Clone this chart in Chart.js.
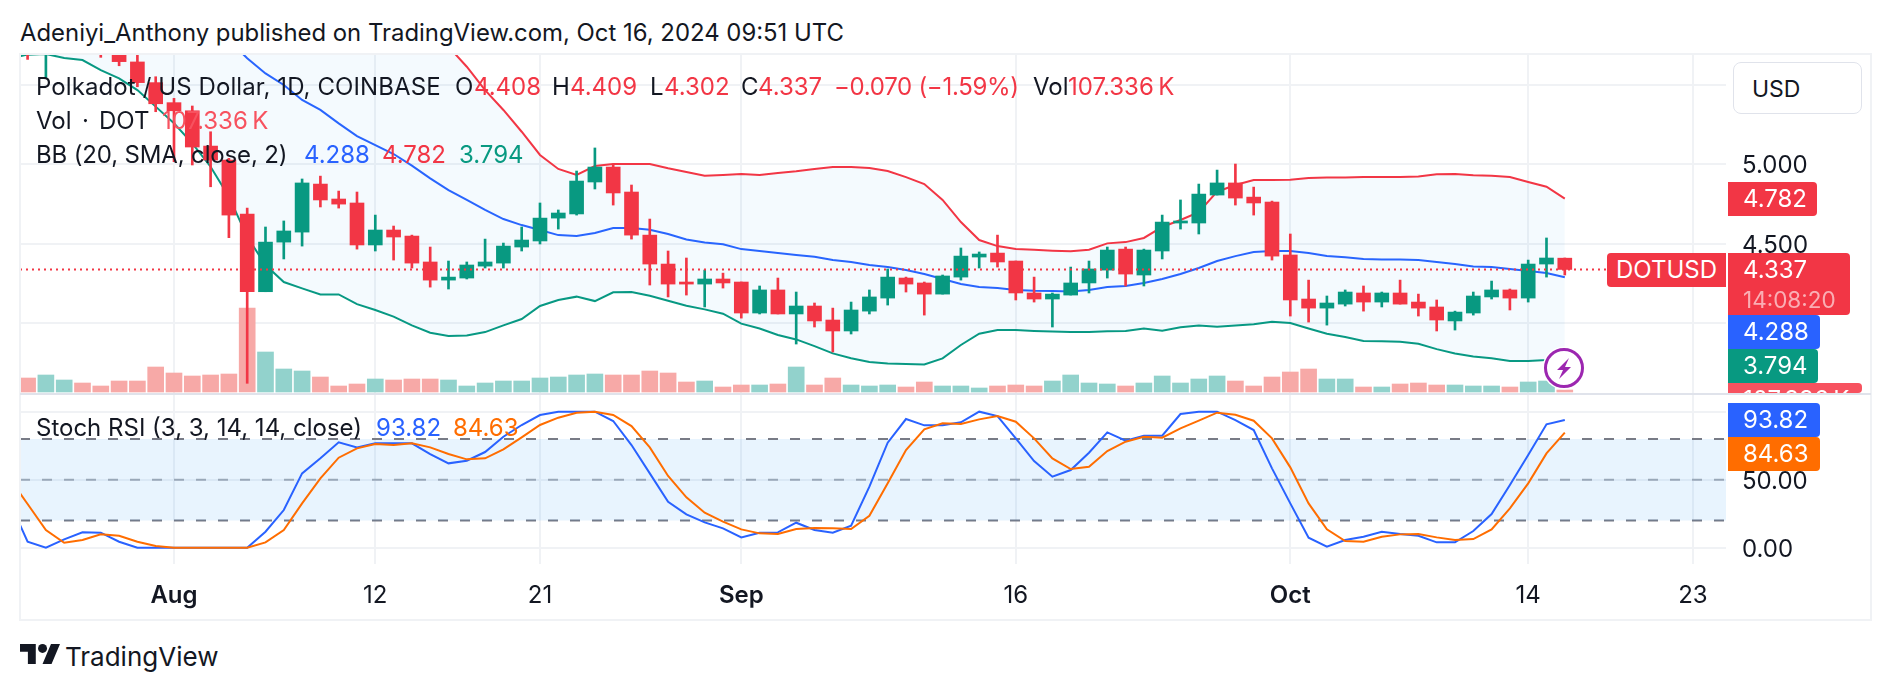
<!DOCTYPE html>
<html>
<head>
<meta charset="utf-8">
<title>DOTUSD</title>
<script src="https://cdn.jsdelivr.net/npm/chart.js@4"></script>
<style>
    html, body { margin: 0; padding: 0; background: #fff; }
    body { width: 1888px; height: 690px; position: relative; overflow: hidden; font-family: Inter, sans-serif; color: #131722; }
    canvas { position: absolute; left: 20px; }
    #main-chart { top: 54px; }
    #stoch-chart { top: 394px; }
    .text { position: absolute; white-space: pre; transform: translateY(-50%); line-height: 1; font-size: 24px; }
    .badge { position: absolute; left: 1728px; color: #fff; font-size: 24px; border-radius: 0 4px 4px 0; box-sizing: border-box; padding-left: 15px; overflow: hidden; }
    .line { position: absolute; background: #F0F2F5; }
</style>
</head>
<body>
<canvas id="main-chart" width="1851" height="339"></canvas>
<canvas id="stoch-chart" width="1851" height="226"></canvas>
<div id="overlay"></div>
<script>
// daily candles, first entry is Jul 23; day numbers below count from Aug 1
const opens = [
    5.78, 5.76, 5.72, 5.80, 5.90, 5.86, 5.80, 5.642, 5.512,
    5.386, 5.335, 5.113, 5.025, 4.686, 4.197, 4.509, 4.572, 4.874, 4.78,
    4.755, 4.491, 4.585, 4.547, 4.384, 4.270, 4.283, 4.358, 4.377, 4.478,
    4.516, 4.660, 4.686, 4.887, 4.981, 4.824, 4.553, 4.371, 4.258, 4.245, 4.277,
    4.258, 4.063, 4.208, 4.057, 4.107, 4.019, 3.950, 4.075, 4.157, 4.283,
    4.252, 4.182, 4.289, 4.415, 4.440, 4.390, 4.189, 4.151, 4.176, 4.252,
    4.333, 4.465, 4.302, 4.453, 4.629, 4.629, 4.805, 4.881, 4.792, 4.761,
    4.428, 4.151, 4.094, 4.119, 4.189, 4.132, 4.189, 4.132, 4.101, 4.013,
    4.063, 4.164, 4.208, 4.157, 4.371, 4.408
];
const highs = [
    5.80, 5.78, 5.85, 5.95, 5.93, 5.90, 5.82, 5.70, 5.549,
    5.413, 5.365, 5.203, 5.036, 4.723, 4.604, 4.642, 4.906, 4.924, 4.830,
    4.824, 4.679, 4.610, 4.553, 4.478, 4.390, 4.384, 4.528, 4.503, 4.604,
    4.755, 4.711, 4.956, 5.101, 5.000, 4.868, 4.654, 4.453, 4.409, 4.333, 4.314,
    4.258, 4.233, 4.283, 4.195, 4.126, 4.094, 4.132, 4.208, 4.340, 4.289,
    4.258, 4.302, 4.472, 4.447, 4.553, 4.390, 4.289, 4.189, 4.352, 4.390,
    4.478, 4.478, 4.465, 4.679, 4.774, 4.874, 4.962, 5.000, 4.855, 4.767,
    4.560, 4.270, 4.170, 4.208, 4.233, 4.195, 4.270, 4.182, 4.145, 4.075,
    4.195, 4.264, 4.214, 4.396, 4.535, 4.409
];
const lows = [
    5.74, 5.658, 5.539, 5.75, 5.80, 5.671, 5.618, 5.486, 5.329,
    5.015, 4.994, 4.857, 4.537, 3.621, 4.197, 4.403, 4.484, 4.730, 4.723,
    4.465, 4.453, 4.396, 4.346, 4.226, 4.214, 4.277, 4.346, 4.346, 4.453,
    4.497, 4.591, 4.679, 4.843, 4.742, 4.528, 4.239, 4.164, 4.176, 4.101, 4.220,
    4.031, 4.057, 4.057, 3.868, 3.975, 3.818, 3.931, 4.057, 4.113, 4.195,
    4.050, 4.182, 4.270, 4.346, 4.352, 4.145, 4.132, 3.975, 4.176, 4.189,
    4.283, 4.233, 4.233, 4.403, 4.591, 4.560, 4.805, 4.742, 4.679, 4.396,
    4.044, 4.006, 3.987, 4.107, 4.075, 4.101, 4.119, 4.044, 3.950, 3.956,
    4.050, 4.151, 4.082, 4.132, 4.289, 4.302
];
const closes = [
    5.76, 5.70, 5.80, 5.90, 5.86, 5.80, 5.644, 5.512, 5.379,
    5.335, 5.107, 5.025, 4.679, 4.197, 4.509, 4.579, 4.881, 4.774, 4.748,
    4.491, 4.585, 4.541, 4.377, 4.270, 4.289, 4.365, 4.384, 4.484, 4.522,
    4.660, 4.692, 4.893, 4.981, 4.818, 4.553, 4.371, 4.245, 4.245, 4.277, 4.252,
    4.063, 4.208, 4.057, 4.107, 4.013, 3.950, 4.082, 4.164, 4.289, 4.245,
    4.182, 4.296, 4.421, 4.434, 4.384, 4.189, 4.151, 4.182, 4.252, 4.340,
    4.459, 4.308, 4.459, 4.635, 4.642, 4.811, 4.881, 4.786, 4.755, 4.421,
    4.145, 4.094, 4.126, 4.195, 4.132, 4.189, 4.119, 4.094, 4.019, 4.069,
    4.170, 4.208, 4.157, 4.371, 4.409, 4.337
];
// volume in thousands of DOT
const volumes = [
    700, 756, 918, 648, 486, 324, 594, 594, 1350,
    1026, 864, 918, 972, 4536, 2160, 1242, 1134, 810, 324,
    432, 702, 648, 702, 702, 648, 324, 486, 594, 594,
    756, 810, 918, 972, 918, 918, 1134, 1026, 540, 594, 270,
    378, 378, 432, 1350, 378, 756, 378, 324, 378, 270,
    540, 324, 324, 216, 324, 378, 324, 594, 918, 486,
    432, 324, 486, 864, 486, 702, 864, 594, 324, 810,
    1080, 1242, 702, 702, 270, 270, 432, 486, 378, 378,
    324, 324, 270, 540, 594, 107.336
];
const bbUpper = [
    6.61, 6.62, 6.63, 6.64, 6.64, 6.63, 6.62, 6.60, 6.58,
    6.55, 6.52, 6.49, 6.45, 6.40, 6.35, 6.30, 6.26, 6.22, 6.17,
    6.12, 6.06, 6.00, 5.94, 5.85, 5.738, 5.612, 5.465, 5.340, 5.203,
    5.057, 4.969, 4.931, 4.987, 5.000, 5.000, 5.000, 4.973, 4.950, 4.927, 4.931,
    4.937, 4.931, 4.943, 4.954, 4.969, 4.981, 4.981, 4.975, 4.956, 4.918,
    4.874, 4.774, 4.635, 4.522, 4.484, 4.465, 4.461, 4.455, 4.451, 4.461,
    4.501, 4.509, 4.535, 4.604, 4.648, 4.698, 4.826, 4.868, 4.899, 4.899,
    4.901, 4.912, 4.916, 4.916, 4.918, 4.918, 4.918, 4.922, 4.935, 4.937,
    4.929, 4.927, 4.918, 4.887, 4.857, 4.782
];
const bbBasis = [
    6.07, 6.08, 6.09, 6.10, 6.11, 6.11, 6.10, 6.09, 6.07,
    6.02, 5.95, 5.87, 5.78, 5.665, 5.570, 5.497, 5.403, 5.340, 5.256,
    5.176, 5.119, 5.063, 4.990, 4.910, 4.836, 4.774, 4.711, 4.654, 4.616,
    4.585, 4.553, 4.547, 4.566, 4.597, 4.597, 4.587, 4.560, 4.526, 4.507, 4.495,
    4.465, 4.453, 4.440, 4.428, 4.417, 4.396, 4.384, 4.365, 4.352, 4.333,
    4.308, 4.277, 4.245, 4.226, 4.220, 4.208, 4.203, 4.201, 4.199, 4.208,
    4.226, 4.233, 4.252, 4.277, 4.308, 4.346, 4.390, 4.421, 4.447, 4.453,
    4.453, 4.440, 4.421, 4.413, 4.403, 4.400, 4.400, 4.396, 4.384, 4.371,
    4.356, 4.352, 4.340, 4.327, 4.314, 4.288
];
const bbLower = [
    5.665, 5.688, 5.692, 5.667, 5.654, 5.591, 5.539, 5.465, 5.361,
    5.256, 5.130, 4.983, 4.795, 4.543, 4.365, 4.258, 4.218, 4.180, 4.180,
    4.119, 4.082, 4.040, 3.985, 3.939, 3.918, 3.922, 3.943, 3.985, 4.025,
    4.107, 4.145, 4.166, 4.138, 4.193, 4.195, 4.172, 4.140, 4.109, 4.086, 4.059,
    3.996, 3.966, 3.925, 3.897, 3.855, 3.809, 3.778, 3.755, 3.746, 3.742,
    3.740, 3.778, 3.862, 3.933, 3.956, 3.956, 3.950, 3.946, 3.943, 3.943,
    3.948, 3.950, 3.966, 3.952, 3.973, 3.985, 3.977, 3.985, 3.992, 4.008,
    4.000, 3.966, 3.933, 3.912, 3.887, 3.885, 3.883, 3.870, 3.836, 3.809,
    3.790, 3.778, 3.761, 3.761, 3.767, 3.794
];
const stochK = [
    34.3, 4.41, 0, 6.13, 11.27, 11.03, 4.41, 0, 0,
    0, 0, 0, 0, 0, 11.76, 27.7, 54.66, 65.69, 77.45,
    73.77, 76.72, 76.72, 76.72, 68.87, 62.01, 63.97, 70.34, 81.62, 90.2,
    97.55, 100, 100, 100, 93.14, 75.49, 54.66, 33.82, 24.51, 18.63, 14.22,
    7.6, 11.03, 11.27, 18.38, 12.99, 11.03, 16.18, 44.85, 77.2, 94.61,
    89.95, 89.95, 92.16, 100, 96.81, 80.39, 63.73, 52.21, 57.11, 69.85,
    84.8, 78.68, 82.35, 82.35, 98.28, 100, 100, 93.87, 86.52, 58.33,
    32.6, 7.35, 0.74, 5.64, 8.09, 11.76, 10.05, 8.82, 3.92, 3.92,
    12.25, 24.75, 46.08, 68.14, 90.69, 93.82
];
const stochD = [
    51.2, 32.11, 12.99, 3.68, 5.64, 9.8, 8.82, 4.41, 1.23,
    0, 0, 0, 0, 0, 3.92, 12.99, 32.6, 50.98, 66.18,
    73.04, 76.23, 75.49, 76.72, 73.77, 68.87, 64.95, 65.69, 72.3, 81.13,
    90.2, 95.59, 99.26, 100, 97.55, 89.46, 73.77, 52.7, 37.01, 25.74, 19.12,
    13.48, 10.54, 10.05, 13.73, 14.46, 14.22, 13.73, 23.53, 47.3, 71.81,
    87.01, 91.42, 90.93, 94.36, 96.81, 92.65, 80.39, 65.69, 57.84, 59.56,
    71.08, 77.94, 81.62, 80.88, 87.75, 93.38, 99.26, 97.79, 93.38, 80.39,
    59.07, 32.6, 13.48, 4.9, 4.41, 8.09, 9.8, 10.05, 7.6, 5.64,
    6.37, 13.48, 28.92, 47.3, 69.36, 84.63
];

const lastPrice = 4.337;
const rsiLevels = [80, 50, 20];
const priceTicks = [4, 4.5, 5, 5.5];
const rsiTicks = [0, 50, 100];
const timeTicks = [0, 11, 20, 31, 46, 61, 74, 83];
const timeLabels = ['Aug', '12', '21', 'Sep', '16', 'Oct', '14', '23'];
const monthTicks = [0, 31, 61];

const UP = '#089981', DOWN = '#F23645', BLUE = '#2962FF', ORANGE = '#FF6D00';
const INK = '#131722', GRID = '#F0F2F5';
const X_MIN = -8.415, X_MAX = 84.809;

const days = opens.map((_, i) => i - 9);
const isDown = i => closes[i] < opens[i];
const candleColors = days.map((_, i) => isDown(i) ? DOWN : UP);
const volumeColors = days.map((_, i) => isDown(i) ? '#F7A9A7' : '#92D2CC');
const series = values => days.map((d, i) => ({ x: d, y: values[i] }));
const flat = y => [{ x: X_MIN, y }, { x: X_MAX, y }];

function timeAxis(showLabels) {
    return {
        type: 'linear',
        min: X_MIN,
        max: X_MAX,
        offset: false,
        grid: { color: GRID, lineWidth: 2, drawTicks: false, offset: false },
        border: { display: false },
        afterBuildTicks: s => { s.ticks = timeTicks.map(value => ({ value })); },
        afterFit: s => { s.height = showLabels ? 56 : 0; s.paddingLeft = 0; s.paddingRight = 0; },
        ticks: {
            display: showLabels,
            autoSkip: false,
            maxRotation: 0,
            padding: 17,
            color: INK,
            font: ctx => ({
                family: 'Inter', size: 24,
                weight: ctx.tick && monthTicks.includes(ctx.tick.value) ? '600' : '400'
            }),
            callback: v => timeLabels[timeTicks.indexOf(v)]
        }
    };
}

function valueAxis(min, max, tickValues, digits) {
    return {
        position: 'right',
        min,
        max,
        grid: { color: GRID, lineWidth: 2, drawTicks: false },
        border: { display: false },
        afterBuildTicks: s => { s.ticks = tickValues.map(value => ({ value })); },
        afterFit: s => { s.width = 145; s.paddingTop = 0; s.paddingBottom = 0; },
        ticks: {
            padding: 16,
            labelOffset: 2,
            crossAlign: 'near',
            color: INK,
            font: { family: 'Inter', size: 24 },
            callback: v => v.toFixed(digits)
        }
    };
}

const baseOptions = {
    responsive: false,
    animation: false,
    events: [],
    layout: { padding: 0 },
    plugins: { legend: { display: false }, tooltip: { enabled: false } }
};

function bandLine(values, color, order) {
    return { type: 'line', data: series(values), borderColor: color, borderWidth: 2, pointRadius: 0, tension: 0, order, yAxisID: 'y' };
}

new Chart(document.getElementById('main-chart'), {
    data: {
        datasets: [
            { type: 'bar', data: series(volumes), backgroundColor: volumeColors, barThickness: 16, grouped: false, order: 6, yAxisID: 'volume' },
            { ...bandLine(bbUpper, DOWN, 5), fill: { target: 2 }, backgroundColor: 'rgba(33,150,243,0.05)' },
            bandLine(bbLower, UP, 5),
            bandLine(bbBasis, BLUE, 5),
            { type: 'bar', data: days.map((d, i) => ({ x: d, y: [lows[i], highs[i]] })), backgroundColor: candleColors, barThickness: 2, grouped: false, order: 3, yAxisID: 'y' },
            { type: 'bar', data: days.map((d, i) => ({ x: d, y: [opens[i], closes[i]] })), backgroundColor: candleColors, barThickness: 14, grouped: false, order: 2, yAxisID: 'y' },
            { type: 'line', data: flat(lastPrice), borderColor: DOWN, borderWidth: 2, borderDash: [2, 4], pointRadius: 0, order: 1, yAxisID: 'y' }
        ]
    },
    options: {
        ...baseOptions,
        scales: {
            x: timeAxis(false),
            y: valueAxis(3.56, 5.692, priceTicks, 3),
            volume: { display: false, min: -54, max: 18252 }
        }
    }
});

new Chart(document.getElementById('stoch-chart'), {
    data: {
        datasets: [
            { type: 'line', data: flat(rsiLevels[0]), borderColor: '#787B86', borderWidth: 2, borderDash: [10, 12], pointRadius: 0, fill: { target: 2 }, backgroundColor: 'rgba(33,150,243,0.1)', order: 3 },
            { type: 'line', data: flat(rsiLevels[1]), borderColor: 'rgba(120,123,134,0.6)', borderWidth: 2, borderDash: [10, 12], pointRadius: 0, order: 3 },
            { type: 'line', data: flat(rsiLevels[2]), borderColor: '#787B86', borderWidth: 2, borderDash: [10, 12], pointRadius: 0, order: 3 },
            { type: 'line', data: series(stochK), borderColor: BLUE, borderWidth: 2, pointRadius: 0, tension: 0, order: 2 },
            { type: 'line', data: series(stochD), borderColor: ORANGE, borderWidth: 2, pointRadius: 0, tension: 0, order: 1 }
        ]
    },
    options: {
        ...baseOptions,
        scales: {
            x: timeAxis(true),
            y: valueAxis(-11.98, 113, rsiTicks, 2)
        }
    }
});

// legend rows, axis badges and frame sit above the canvases
const overlay = document.getElementById('overlay');

function addText(text, x, y, color, extra) {
    const el = document.createElement('div');
    el.className = 'text';
    el.textContent = text;
    el.style.left = x + 'px';
    el.style.top = y + 'px';
    el.style.color = color || INK;
    if (extra) Object.assign(el.style, extra);
    overlay.appendChild(el);
}

function addBadge(lines, top, height, right, color) {
    const el = document.createElement('div');
    el.className = 'badge';
    el.style.top = top + 'px';
    el.style.height = height + 'px';
    el.style.width = (right - 1728) + 'px';
    el.style.background = color;
    lines.forEach(line => {
        const row = document.createElement('div');
        row.textContent = line.text;
        row.style.height = line.height + 'px';
        row.style.lineHeight = line.height + 'px';
        if (line.opacity) row.style.opacity = line.opacity;
        if (line.size) row.style.fontSize = line.size + 'px';
        el.appendChild(row);
    });
    overlay.appendChild(el);
}

function addLine(left, top, width, height, color) {
    const el = document.createElement('div');
    el.className = 'line';
    Object.assign(el.style, { left: left + 'px', top: top + 'px', width: width + 'px', height: height + 'px' });
    if (color) el.style.background = color;
    overlay.appendChild(el);
}

addText('Adeniyi_Anthony published on TradingView.com, Oct 16, 2024 09:51 UTC', 20, 33, INK, { fontSize: '23.9px' });

addText('Polkadot / US Dollar, 1D, COINBASE', 36, 87, INK, { letterSpacing: '0.1px' });
addText('O', 455, 87);
addText('4.408', 474, 87, DOWN);
addText('H', 552, 87);
addText('4.409', 570, 87, DOWN);
addText('L', 650, 87);
addText('4.302', 664, 87, DOWN);
addText('C', 741, 87);
addText('4.337', 758, 87, DOWN);
addText('\u22120.070 (\u22121.59%)', 834, 87, DOWN, { letterSpacing: '-0.3px' });
addText('Vol', 1033, 87);
addText('107.336\u2009K', 1068, 87, DOWN);

addText('Vol', 36, 121);
addText('\u00b7', 82, 121);
addText('DOT', 99, 121);
addText('107.336\u2009K', 162, 121, '#F7525F');

addText('BB (20, SMA, close, 2)', 36, 155, INK, { letterSpacing: '-0.15px' });
addText('4.288', 304, 155, BLUE);
addText('4.782', 382, 155, DOWN);
addText('3.794', 459, 155, UP);

addText('Stoch RSI (3, 3, 14, 14, close)', 36, 428);
addText('93.82', 376, 428, BLUE);
addText('84.63', 453, 428, ORANGE);

// axis badges
addBadge([{ text: '4.782', height: 34 }], 182, 34, 1817, DOWN);
addBadge([{ text: '4.337', height: 34 }, { text: '14:08:20', height: 26, size: 22.5, opacity: 0.6 }], 253, 62, 1850, DOWN);
addBadge([{ text: '4.288', height: 34 }], 315, 34, 1820, BLUE);
addBadge([{ text: '3.794', height: 34 }], 349, 34, 1818, UP);
addBadge([{ text: '107.336\u2009K', height: 34 }], 383, 10, 1862, '#F7525F');
addBadge([{ text: '93.82', height: 34 }], 403, 34, 1820, BLUE);
addBadge([{ text: '84.63', height: 34 }], 437, 34, 1820, ORANGE);

// symbol label next to the price axis
const tag = document.createElement('div');
tag.textContent = 'DOTUSD';
Object.assign(tag.style, {
    position: 'absolute', left: '1607px', top: '253px', width: '119px', height: '34px', lineHeight: '34px',
    background: DOWN, color: '#fff', fontSize: '24px', textAlign: 'center', borderRadius: '4px 0 0 4px'
});
overlay.appendChild(tag);

// currency button
const currency = document.createElement('div');
currency.textContent = 'USD';
Object.assign(currency.style, {
    position: 'absolute', left: '1733px', top: '62px', width: '129px', height: '52px', lineHeight: '52px',
    boxSizing: 'border-box', background: '#fff', border: '1px solid #E0E3EB', borderRadius: '8px',
    paddingLeft: '18px', fontSize: '23px'
});
overlay.appendChild(currency);

// frame and pane divider
addLine(20, 53, 1851, 2);
addLine(20, 619, 1851, 2);
addLine(19, 53, 2, 568);
addLine(1870, 53, 2, 568);
addLine(20, 393, 1851, 2, '#E0E3EB');
</script>

<svg style="position:absolute;left:1542px;top:346px" width="44" height="44" viewBox="0 0 44 44">
    <circle cx="22" cy="22" r="21.5" fill="#fff"/>
    <circle cx="22" cy="22" r="18.5" fill="#fff" stroke="#9C27B0" stroke-width="3"/>
    <path d="M27 12 L15 24 L21 24 L17 33 L29 21 L23 21 Z" fill="#9C27B0"/>
</svg>
<svg style="position:absolute;left:20px;top:644px" width="40" height="20" viewBox="0 4 35.5 18" preserveAspectRatio="none">
    <path fill="#131722" d="M14 22H7V11H0V4h14v18zM28 22h-8l7.5-18h8L28 22z"/>
    <circle fill="#131722" cx="20" cy="8" r="4"/>
</svg>
<div class="text" style="left:65px;top:657px;font-size:26px;">TradingView</div>
</body>
</html>
